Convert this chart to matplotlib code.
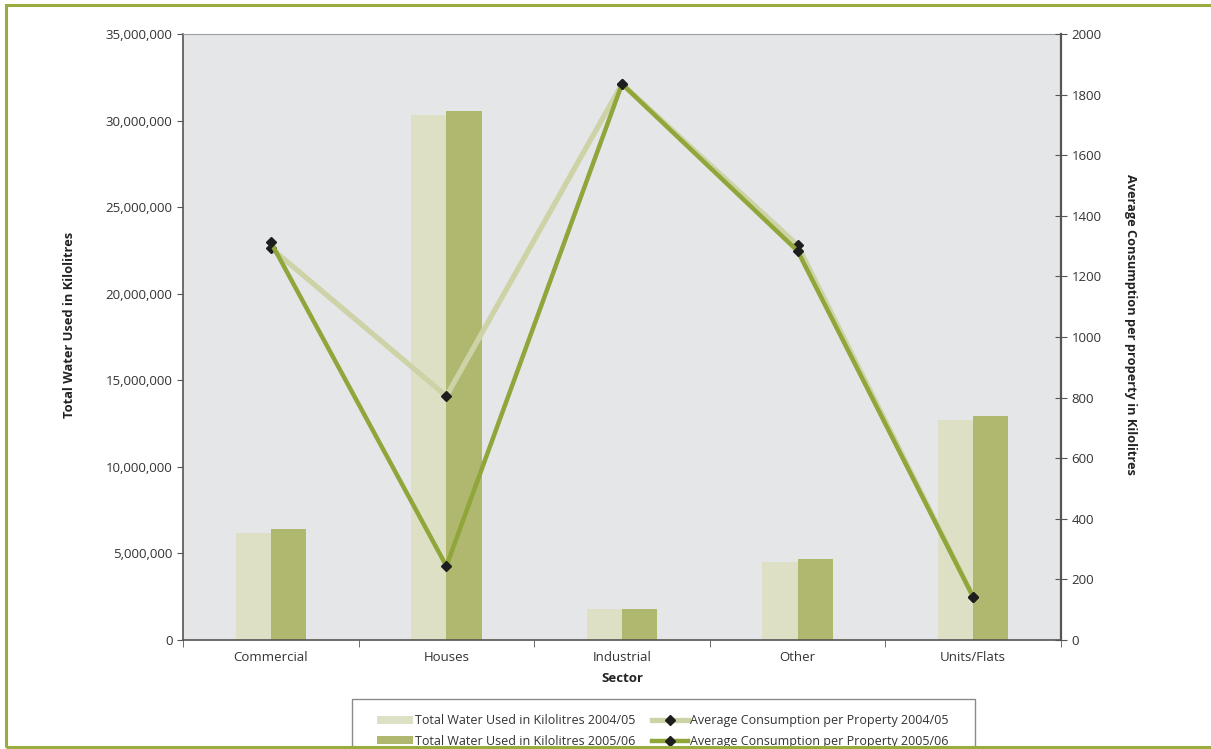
import numpy as np
import matplotlib.pyplot as plt
from matplotlib.patches import Rectangle
from matplotlib.ticker import FuncFormatter, MultipleLocator

plt.rcParams['font.family'] = ['Open Sans', 'DejaVu Sans']

# данные
sectors = ['Commercial', 'Houses', 'Industrial', 'Other', 'Units/Flats']
total_0405 = [6180000, 30300000, 1800000, 4500000, 12730000]
total_0506 = [6420000, 30580000, 1800000, 4680000, 12950000]
avg_0405 = [1294, 805, 1835, 1303, 142]
avg_0506 = [1313, 244, 1835, 1284, 142]

c_bar1, c_bar2 = '#dde0c4', '#b0b76f'
c_line1, c_line2 = '#cdd3a6', '#8fa63a'
txt = '#333333'

fig = plt.figure(figsize=(12.11, 7.49), dpi=100)
ax = fig.add_axes([183/1211, 1-640/749, 878/1211, 606/749])
ax.set_facecolor('#e5e6e8')

x = np.arange(len(sectors))
w = 0.2
b1 = ax.bar(x - w/2, total_0405, w, color=c_bar1, label='Total Water Used in Kilolitres 2004/05')
b2 = ax.bar(x + w/2, total_0506, w, color=c_bar2, label='Total Water Used in Kilolitres 2005/06')

ax.set_xlim(-0.5, len(sectors) - 0.5)
ax.set_ylim(0, 35000000)
ax.yaxis.set_major_locator(MultipleLocator(5000000))
ax.yaxis.set_major_formatter(FuncFormatter(lambda v, p: f'{int(v):,}'))
ax.set_xticks(x)
ax.set_xticklabels(sectors)
ax.set_xticks(np.arange(-0.5, len(sectors)), minor=True)
ax.tick_params(axis='x', which='major', length=0, pad=8, labelsize=9.5, colors=txt)
ax.tick_params(axis='x', which='minor', length=5, color='#555555')
ax.tick_params(axis='y', length=4, labelsize=9.5, colors=txt, color='#555555')
ax.set_xlabel('Sector', fontsize=9.5, fontweight='bold', color='#222222', labelpad=6)
ax.set_ylabel('Total Water Used in Kilolitres', fontsize=9.3, fontweight='bold', color='#222222')
ax.yaxis.set_label_coords(-0.122, 0.52)

for s in ['left', 'bottom']:
    ax.spines[s].set_color('#555555')
    ax.spines[s].set_linewidth(1.2)
ax.spines['top'].set_color('#9a9ea4')
ax.spines['right'].set_visible(False)

ax2 = ax.twinx()
ax2.set_ylim(0, 2000)
ax2.yaxis.set_major_locator(MultipleLocator(200))
l1, = ax2.plot(x, avg_0405, color=c_line1, lw=3.8, marker='D', ms=5.5,
               mfc='#1e1e1e', mec='#1e1e1e', label='Average Consumption per Property 2004/05')
l2, = ax2.plot(x, avg_0506, color=c_line2, lw=3.2, marker='D', ms=5.5,
               mfc='#1e1e1e', mec='#1e1e1e', label='Average Consumption per Property 2005/06')
ax2.tick_params(axis='y', direction='inout', length=8, labelsize=9.5, colors=txt, color='#555555')
ax2.set_ylabel('Average Consumption per property in Kilolitres', fontsize=9.2, fontweight='bold',
               color='#222222', rotation=-90, va='center')
ax2.yaxis.set_label_coords(1 + (1130 - 1061)/878, 0.52)
ax2.spines['right'].set_color('#555555')
ax2.spines['right'].set_linewidth(1.6)
for s in ['left', 'top', 'bottom']:
    ax2.spines[s].set_visible(False)

handles = [b1, b2, l1, l2]
leg = fig.legend(handles, [h.get_label() for h in handles],
                 ncol=2, loc='upper left', bbox_to_anchor=(377/1211, 1-714/749),
                 fontsize=9, frameon=False, borderpad=0, borderaxespad=0,
                 handlelength=2.9, handleheight=0.6, handletextpad=0.15,
                 columnspacing=1.3, labelspacing=0.62, numpoints=1)
for t in leg.get_texts():
    t.set_color(txt)

# рамка легенды (обрезана снизу)
fig.patches.append(Rectangle((352/1211, -0.05), (975-352)/1211, 0.05 + 1-699/749,
                             transform=fig.transFigure, fill=False,
                             edgecolor='#8a8a8a', lw=1.0, zorder=5))

# зелёная рамка
fig.patches.append(Rectangle((6/1211, 2/749), 1.1, 1-7/749, transform=fig.transFigure,
                             fill=False, edgecolor='#9aab3f', lw=2.2, zorder=10))

fig.savefig('out.png', dpi=100)
